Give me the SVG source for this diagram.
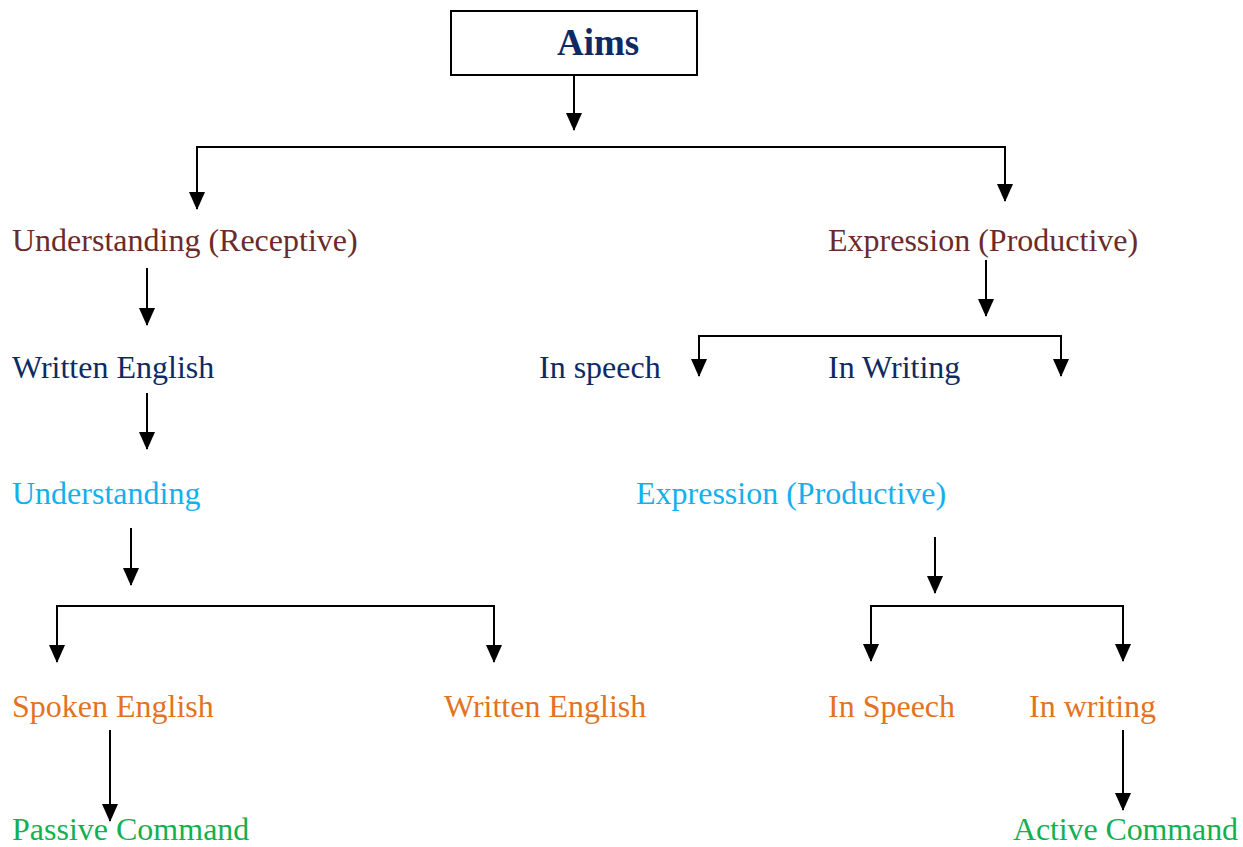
<svg xmlns="http://www.w3.org/2000/svg" width="1243" height="847" viewBox="0 0 1243 847">
<defs>
<marker id="ah" markerUnits="userSpaceOnUse" markerWidth="18" markerHeight="16" refX="17" refY="8" orient="auto">
<path d="M0,0 L18,8 L0,16 z" fill="#000"/>
</marker>
<style>
text{font-family:"Liberation Serif","Times New Roman",serif;font-size:32px}
.m{fill:#6B2B2B}.n{fill:#0E2A64}.c{fill:#13B0EE}.o{fill:#E2731F}.g{fill:#13B050}
.b{font-weight:bold;font-size:37px}
.a{stroke:#000;stroke-width:2;fill:none;marker-end:url(#ah)}
.l{stroke:#000;stroke-width:2;fill:none}
</style>
</defs>
<rect width="1243" height="847" fill="#fff"/>
<g id="aims"><rect x="451" y="11" width="246" height="64" fill="#fff" stroke="#000" stroke-width="2"/><text x="557" y="55" class="n b">Aims</text></g>
<g id="understanding-receptive"><text x="12" y="251" class="m">Understanding (Receptive)</text></g>
<g id="expression-productive"><text x="828" y="251" class="m">Expression (Productive)</text></g>
<g id="written-english-1"><text x="12" y="378" class="n">Written English</text></g>
<g id="in-speech-1"><text x="539" y="378" class="n">In speech</text></g>
<g id="in-writing-1"><text x="828" y="378" class="n">In Writing</text></g>
<g id="understanding"><text x="12" y="504" class="c">Understanding</text></g>
<g id="expression-productive-2"><text x="636" y="504" class="c">Expression (Productive)</text></g>
<g id="spoken-english"><text x="12" y="717" class="o">Spoken English</text></g>
<g id="written-english-2"><text x="444" y="717" class="o">Written English</text></g>
<g id="in-speech-2"><text x="828" y="717" class="o">In Speech</text></g>
<g id="in-writing-2"><text x="1029" y="717" class="o">In writing</text></g>
<g id="passive-command"><text x="12" y="840" class="g">Passive Command</text></g>
<g id="active-command"><text x="1013" y="840" class="g" textLength="225">Active Command</text></g>
<g id="connectors">
<line x1="574" y1="75" x2="574" y2="130" class="a"/>
<polyline points="197,208 197,147 1005,147 1005,200" class="l"/>
<line x1="197" y1="190" x2="197" y2="209" class="a"/>
<line x1="1005" y1="180" x2="1005" y2="201" class="a"/>
<line x1="147" y1="268" x2="147" y2="325" class="a"/>
<line x1="986" y1="260" x2="986" y2="316" class="a"/>
<polyline points="699,360 699,336 1061,336 1061,360" class="l"/>
<line x1="699" y1="350" x2="699" y2="376" class="a"/>
<line x1="1061" y1="350" x2="1061" y2="376" class="a"/>
<line x1="147" y1="393" x2="147" y2="449" class="a"/>
<line x1="131" y1="528" x2="131" y2="585" class="a"/>
<polyline points="57,640 57,606 494,606 494,640" class="l"/>
<line x1="57" y1="630" x2="57" y2="662" class="a"/>
<line x1="494" y1="630" x2="494" y2="662" class="a"/>
<line x1="935" y1="537" x2="935" y2="593" class="a"/>
<polyline points="871,640 871,606 1123,606 1123,640" class="l"/>
<line x1="871" y1="630" x2="871" y2="661" class="a"/>
<line x1="1123" y1="630" x2="1123" y2="661" class="a"/>
<line x1="110" y1="730" x2="110" y2="821" class="a"/>
<line x1="1123" y1="730" x2="1123" y2="810" class="a"/>
</g>
</svg>
